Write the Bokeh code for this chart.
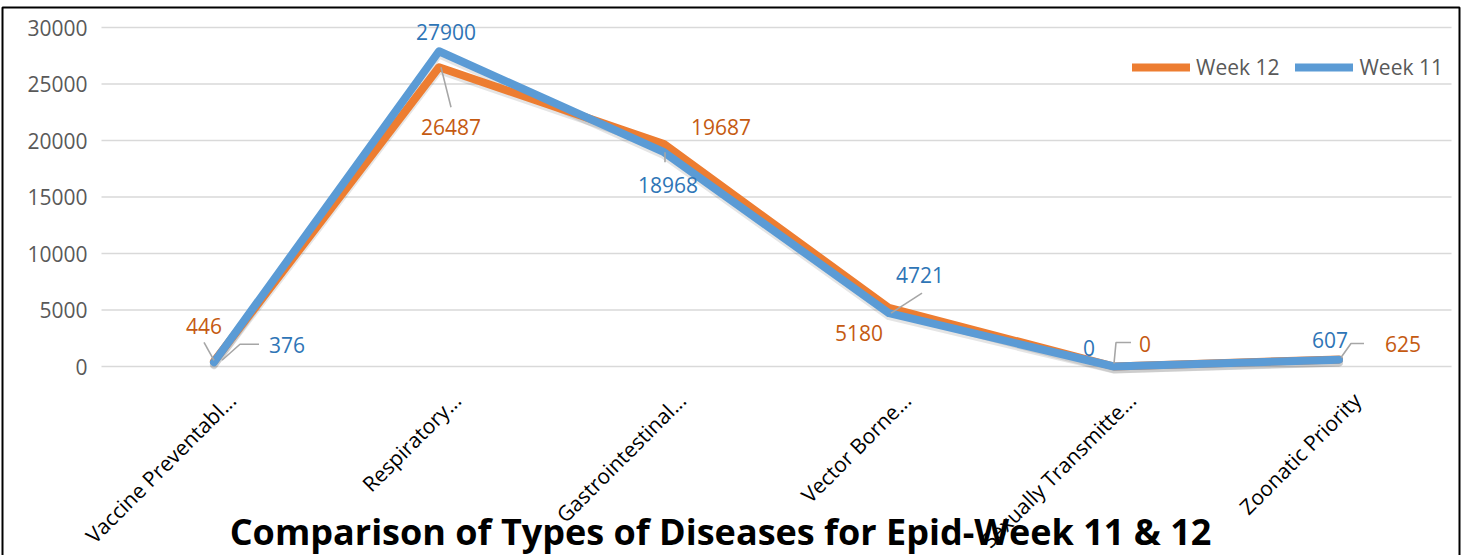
import math
from bokeh.plotting import figure
from bokeh.models import Range1d, Legend, LegendItem, ColumnDataSource
from bokeh.embed import file_html
from bokeh.resources import INLINE
from bokeh.core.properties import value

# ---------------- data ----------------
categories = ["Vaccine Preventabl...", "Respiratory...", "Gastrointestinal...",
              "Vector Borne...", "Sexually Transmitte...", "Zoonatic Priority"]
week12 = [446, 26487, 19687, 5180, 0, 625]
week11 = [376, 27900, 18968, 4721, 0, 607]
y_ticks = [0, 5000, 10000, 15000, 20000, 25000, 30000]
series_names = ["Week 12", "Week 11"]
title_text = "Comparison of Types of Diseases for Epid-Week 11 & 12"

# ---------------- styles / geometry ----------------
FONT = "Open Sans"
ORANGE, BLUE = "#ED7D31", "#5B9BD5"
ORANGE_TXT, BLUE_TXT = "#C55A11", "#2E75B6"
GREY_TXT = "#595959"
LEADER = "#A6A6A6"
LW = 8

W, H = 1471, 555
CAT0_PX, CAT_STEP = 213.5, 225.0        # screen x of first category, spacing
YTOP_PX, YZERO_PX = 27.0, 366.0         # screen y of 30000 and of 0
SC = (YZERO_PX - YTOP_PX) / y_ticks[-1]  # px per unit
X0 = -CAT0_PX / CAT_STEP
X1 = (W - CAT0_PX) / CAT_STEP
Y1 = y_ticks[-1] + YTOP_PX / SC
Y0 = -(H - YZERO_PX) / SC
PXX = (X1 - X0) / W
PXY = (Y1 - Y0) / H


def sx(px):
    return X0 + px * PXX


def sy(py):
    return Y1 - py * PXY


# label offsets in screen px (dx, dy; dy down)
off12 = [(-10, -35), (12, 60), (57, -17), (-30, 25), (31, -23), (64, -15)]
off11 = [(73, -17), (7, -19), (4, 33), (31, -38), (-25, -19), (-9, -20)]
# leader polylines in px relative to point (None = no leader)
lead12 = [[(0, -1), (-10, -19)], [(2, 0), (12, 40)], None, None,
          [(0, -3), (2, -24), (17, -24)], [(2, -2), (12, -16), (25, -16)]]
lead11 = [[(8, -2), (26, -18), (45, -18)], None, [(1, 0), (1, 10)],
          [(2, 0), (33, -20)], None, None]

p = figure(width=W, height=H, output_backend="svg", toolbar_location=None,
           x_range=Range1d(X0, X1), y_range=Range1d(Y0, Y1),
           min_border=0, background_fill_color="white", border_fill_color="white")
p.outline_line_color = None
p.xaxis.visible = False
p.yaxis.visible = False
p.grid.visible = False

xs = list(range(len(categories)))
zeros = [0 for _ in categories]
g0, g1 = xs[0] - 0.5, xs[-1] + 0.5

# chart border (frame of the picture)
p.line([sx(2), sx(2), sx(1459), sx(1459)], [sy(H), sy(7), sy(7), sy(H)],
       line_color="#000000", line_width=2)

# horizontal gridlines
p.segment(x0=[g0] * len(y_ticks), x1=[g1] * len(y_ticks), y0=y_ticks, y1=y_ticks,
          line_color="#D9D9D9", line_width=1.5)

# y tick labels
p.text(x=[g0] * len(y_ticks), y=y_ticks, text=[str(t) for t in y_ticks], x_offset=-14,
       text_align="right", text_baseline="middle", text_color=GREY_TXT,
       text_font=value(FONT), text_font_size=value("21px"))

# rotated category labels
p.text(x=xs, y=zeros, text=categories, angle=math.pi / 4, x_offset=18, y_offset=30,
       text_align="right", text_baseline="middle", text_color="#000000",
       text_font=value(FONT), text_font_size=value("21px"))

# line shadows
for vals in (week12, week11):
    p.line(xs, [v - 3 * PXY for v in vals], line_color="#000000", line_alpha=0.10,
           line_width=LW, line_join="round", line_cap="round")

# lines
r12 = p.line(xs, week12, line_color=ORANGE, line_width=LW, line_join="round", line_cap="round")
r11 = p.line(xs, week11, line_color=BLUE, line_width=LW, line_join="round", line_cap="round")

# leader lines
lx, ly = [], []
for vals, leads in ((week12, lead12), (week11, lead11)):
    for i, (v, ld) in enumerate(zip(vals, leads)):
        if ld is None:
            continue
        lx.append([xs[i] + dx * PXX for dx, dy in ld])
        ly.append([v - dy * PXY for dx, dy in ld])
p.multi_line(lx, ly, line_color=LEADER, line_width=1.6)

# data labels
for vals, offs, col in ((week12, off12, ORANGE_TXT), (week11, off11, BLUE_TXT)):
    src = ColumnDataSource(dict(x=xs, y=vals, t=[str(v) for v in vals],
                                dx=[o[0] for o in offs], dy=[o[1] for o in offs]))
    p.text(x="x", y="y", text="t", x_offset="dx", y_offset="dy", source=src,
           text_color=col, text_font=value(FONT), text_font_size=value("21px"),
           text_align="center", text_baseline="middle")

# legend
legend = Legend(items=[LegendItem(label=series_names[0], renderers=[r12]),
                       LegendItem(label=series_names[1], renderers=[r11])],
                orientation="horizontal", location=(1132, H - 67 - 14),
                border_line_color=None, background_fill_alpha=0,
                label_text_font=FONT, label_text_font_size="21px",
                label_text_color=GREY_TXT, glyph_width=58, glyph_height=20,
                label_standoff=6, spacing=16, padding=0, margin=0)
p.add_layout(legend)

# title at the bottom, overlapping the category labels as in the original
p.text(x=[(g0 + g1) / 2], y=[0], text=[title_text], x_offset=-56, y_offset=165,
       text_align="center", text_baseline="middle", text_color="#000000",
       text_font=value(FONT), text_font_style="bold", text_font_size=value("36px"))

open("out.html", "w").write(file_html(p, INLINE))
